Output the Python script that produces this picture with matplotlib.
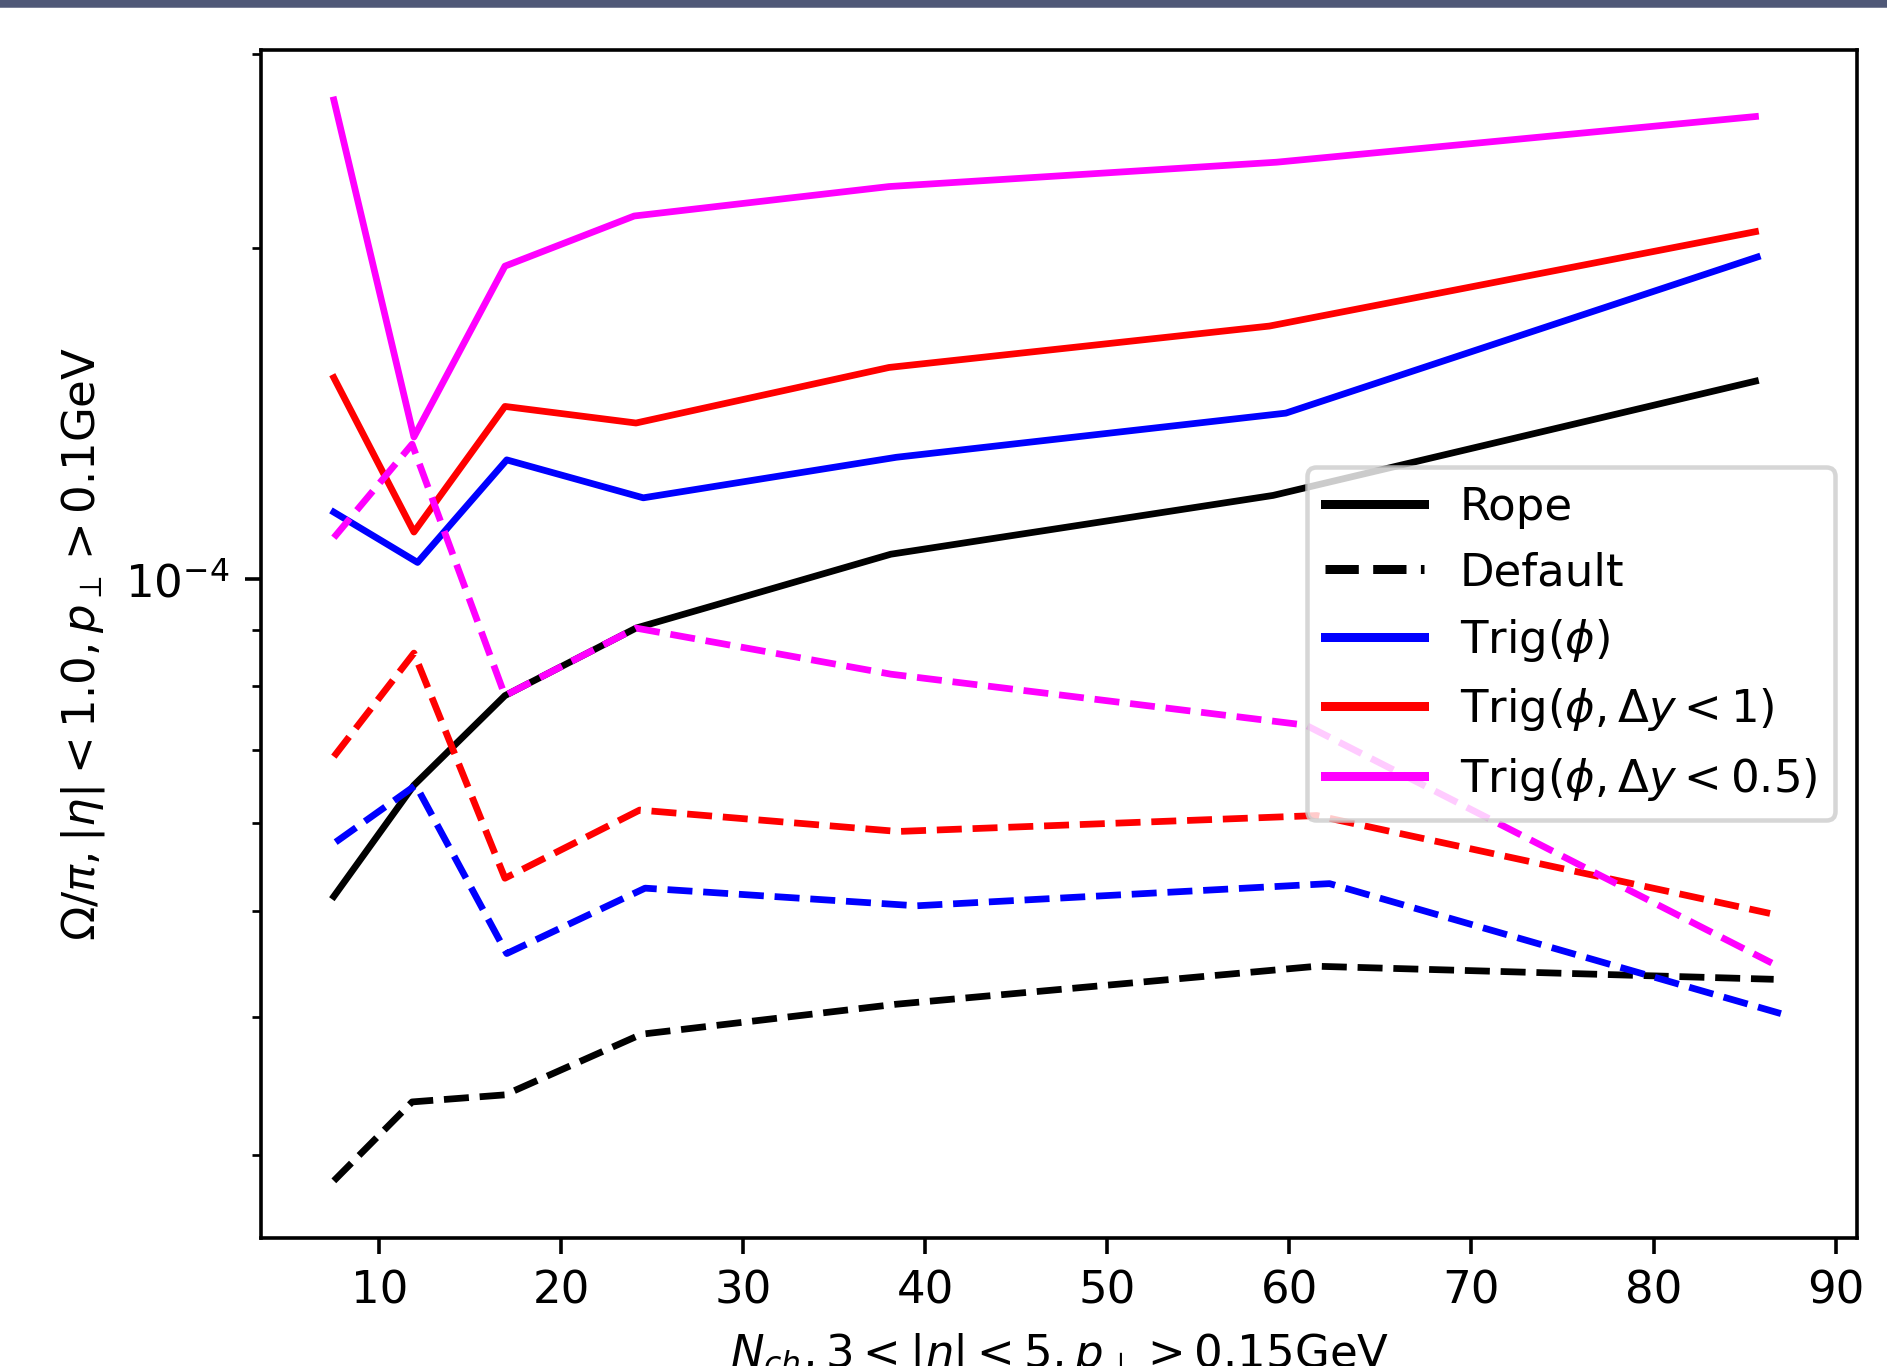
import matplotlib
matplotlib.use("Agg")
import matplotlib.pyplot as plt
from matplotlib.lines import Line2D
from matplotlib.patches import Rectangle

# Rope runs (solid lines)
x_rope = [7.5, 11.9, 16.9, 24.1, 38.1, 59.1, 85.6]
y_rope = [5.15e-5, 6.5e-5, 7.84e-5, 9.03e-5, 1.054e-4, 1.192e-4, 1.514e-4]

x_trig = [7.5, 12.1, 17.0, 24.5, 38.4, 59.8, 85.7]
y_trig = [1.151e-4, 1.036e-4, 1.284e-4, 1.186e-4, 1.291e-4, 1.416e-4, 1.963e-4]

x_trig_dy1 = [7.5, 11.9, 16.9, 24.1, 38.0, 58.9, 85.6]
y_trig_dy1 = [1.525e-4, 1.104e-4, 1.436e-4, 1.387e-4, 1.558e-4, 1.699e-4, 2.07e-4]

x_trig_dy05 = [7.5, 11.9, 16.9, 24.0, 38.0, 59.3, 85.6]
y_trig_dy05 = [2.727e-4, 1.347e-4, 1.926e-4, 2.139e-4, 2.275e-4, 2.394e-4, 2.634e-4]

# Default runs (dashed lines)
x_def = [7.5, 11.8, 16.9, 24.4, 38.4, 61.5, 86.6]
y_def = [2.84e-5, 3.35e-5, 3.40e-5, 3.86e-5, 4.11e-5, 4.45e-5, 4.33e-5]

x_def_trig = [7.6, 12.0, 17.0, 24.6, 39.5, 62.2, 87.0]
y_def_trig = [5.77e-5, 6.5e-5, 4.57e-5, 5.24e-5, 5.05e-5, 5.29e-5, 4.03e-5]

x_def_dy1 = [7.5, 11.9, 16.9, 24.3, 38.5, 61.5, 86.4]
y_def_dy1 = [6.9e-5, 8.57e-5, 5.35e-5, 6.17e-5, 5.9e-5, 6.1e-5, 4.97e-5]

x_def_dy05 = [7.5, 11.8, 16.9, 24.1, 38.1, 60.9, 86.5]
y_def_dy05 = [1.091e-4, 1.327e-4, 7.84e-5, 9.03e-5, 8.2e-5, 7.37e-5, 4.48e-5]

labels = ["Rope", "Default", r"Trig($\phi$)", r"Trig($\phi, \Delta y < 1$)",
          r"Trig($\phi, \Delta y < 0.5$)"]

DPI = 324
fig = plt.figure(figsize=(1887.4 / DPI, 1366.4 / DPI), dpi=DPI)
ax = fig.add_axes([0.1383, 0.0937, 0.8458, 0.8697])

ax.plot(x_rope, y_rope, color="k")
ax.plot(x_def, y_def, color="k", ls="--")
ax.plot(x_trig, y_trig, color="b")
ax.plot(x_def_trig, y_def_trig, color="b", ls="--")
ax.plot(x_trig_dy1, y_trig_dy1, color="r")
ax.plot(x_def_dy1, y_def_dy1, color="r", ls="--")
ax.plot(x_trig_dy05, y_trig_dy05, color="magenta")
ax.plot(x_def_dy05, y_def_dy05, color="magenta", ls="--")

ax.set_yscale("log")
ax.set_xlim(3.5, 91.2)
ax.set_ylim(2.52e-5, 3.03e-4)

ax.set_xlabel(r"$N_{ch}, 3 < |\eta| < 5, p_\perp > 0.15$GeV")
ax.set_ylabel(r"$\Omega/\pi, |\eta| < 1.0, p_\perp > 0.1$GeV")

handles = [
    Line2D([], [], color="k", lw=2),
    Line2D([], [], color="k", lw=2, ls="--"),
    Line2D([], [], color="b", lw=2),
    Line2D([], [], color="r", lw=2),
    Line2D([], [], color="magenta", lw=2),
]
ax.legend(handles, labels, loc="center right", handlelength=2.2)

# dark strip along the top edge of the screenshot
fig.patches.append(Rectangle((0, 1 - 5 / 1366), 1, 5 / 1366, transform=fig.transFigure,
                             color="#4f5877", zorder=10))

fig.savefig("out.png", dpi=DPI)
